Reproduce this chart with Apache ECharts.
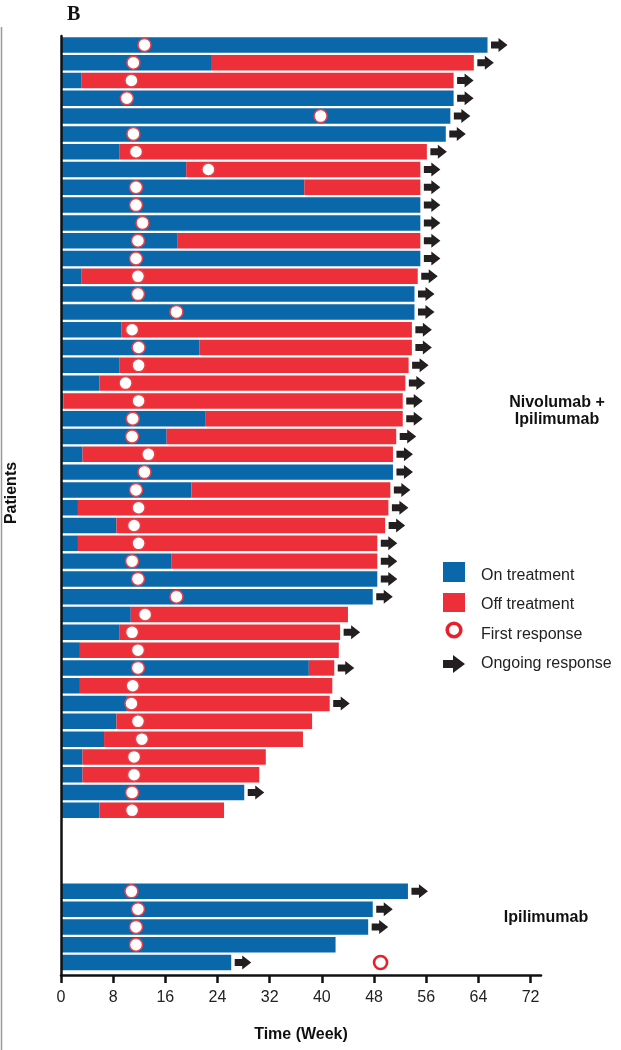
<!DOCTYPE html>
<html>
<head>
<meta charset="utf-8">
<script src="https://cdn.jsdelivr.net/npm/echarts@6/dist/echarts.min.js"></script>
<style>html,body{margin:0;padding:0;background:#fff;}#chart{width:621px;height:1050px;}</style>
</head>
<body>
<div id="chart"></div>
<script>
// ---- data (weeks) ----
const nivoOn =      [65.4,23.0,3.1,60.2,59.7,59.0,9.0,19.2,37.3,55.1,55.1,17.9,55.1,3.1,54.2,54.2,9.3,21.2,9.0,5.9,0.4,22.1,16.2,3.3,50.9,20.0,2.6,8.5,2.6,16.9,48.5,47.8,10.7,9.0,2.9,38.0,2.9,10.1,8.5,6.6,3.3,3.3,28.1,5.9];
const nivoTotal =   [65.4,63.3,60.2,60.2,59.7,59.0,56.1,55.1,55.1,55.1,55.1,55.1,55.1,54.7,54.2,54.2,53.8,53.8,53.3,52.8,52.4,52.4,51.4,50.9,50.9,50.5,50.2,49.7,48.5,48.5,48.5,47.8,44.0,42.8,42.6,41.9,41.6,41.2,38.5,37.1,31.4,30.4,28.1,25.0];
const nivoResp =    [12.8,11.1,10.8,10.1,39.8,11.1,11.5,22.6,11.5,11.5,12.5,11.8,11.5,11.8,11.8,17.7,10.9,11.9,11.9,9.9,11.9,11.0,10.9,13.4,12.8,11.5,11.9,11.2,11.9,10.9,11.8,17.7,12.9,10.9,11.8,11.8,11.0,10.8,11.8,12.4,11.2,11.2,10.9,10.9];
const nivoOngoing = [1,1,1,1,1,1,1,1,1,1,1,1,1,1,1,1,1,1,1,1,1,1,1,1,1,1,1,1,1,1,1,1,0,1,0,1,0,1,0,0,0,0,1,0];
const ipiOn =       [53.2,47.8,47.1,42.1,26.1];
const ipiTotal =    [53.2,47.8,47.1,42.1,26.1];
const ipiResp =     [10.8,11.8,11.5,11.5,49.0];
const ipiOngoing =  [1,1,1,0,1];
const xTicks = [0,8,16,24,32,40,48,56,64,72];
const legendNames = ['On treatment','Off treatment','First response','Ongoing response'];
const groupNames = ['Nivolumab +\nIpilimumab','Ipilimumab'];

const BLUE = '#0a67a9', RED = '#ec2f38', BLACK = '#231f20';
const GAP_ROWS = 4.55;

// build rows
const rows = [];
nivoOn.forEach((v,i)=>rows.push({pos:i,on:v,total:nivoTotal[i],resp:nivoResp[i],ong:nivoOngoing[i]}));
ipiOn.forEach((v,j)=>rows.push({pos:nivoOn.length-1+GAP_ROWS+j,on:v,total:ipiTotal[j],resp:ipiResp[j],ong:ipiOngoing[j]}));

const onData = rows.map(r=>[r.pos,0,r.on]);
const offData = rows.filter(r=>r.total>r.on).map(r=>[r.pos,r.on,r.total]);
const arrowData = rows.filter(r=>r.ong).map(r=>[r.pos,r.total]);
const respData = rows.map(r=>{
  const off = r.resp > r.total;
  return {value:[r.resp,r.pos], itemStyle: off ? {color:'#fff',borderColor:'#e8202c',borderWidth:2.6} : undefined};
});

function barRender(color){
  return function(params, api){
    const y = api.value(0), s = api.value(1), e = api.value(2);
    const p0 = api.coord([s,y]), p1 = api.coord([e,y]);
    const h = api.size([0,1])[1]*0.87;
    return {type:'rect', shape:{x:p0[0], y:p0[1]-h/2, width:p1[0]-p0[0], height:h}, style:{fill:color}};
  };
}
function arrowRender(params, api){
  const p = api.coord([api.value(1), api.value(0)]);
  const x0 = p[0]+3.5, y = p[1];
  return {type:'polygon', shape:{points:[[x0,y-3.5],[x0+7.5,y-3.5],[x0+7.5,y-7],[x0+16.5,y],[x0+7.5,y+7],[x0+7.5,y+3.5],[x0,y+3.5]]}, style:{fill:BLACK}};
}

const chart = echarts.init(document.getElementById('chart'), null, {renderer:'canvas'});
const FONT = '"Liberation Sans", Arial, Helvetica, sans-serif';
chart.setOption({
  animation:false,
  grid:{left:61, right:80, top:36, bottom:75},
  xAxis:{
    type:'value', min:0, max:73.6, interval:8, position:'bottom',
    axisLine:{show:true, onZero:false, lineStyle:{color:'#111', width:2.5}},
    axisTick:{show:true, customValues:xTicks, length:8, lineStyle:{color:'#111', width:2.5}},
    axisLabel:{customValues:xTicks, margin:15, fontSize:16, color:'#222', fontFamily:FONT,
      formatter:v=> (v%8===0 ? String(v) : '')},
    splitLine:{show:false},
    name:'Time (Week)', nameLocation:'middle', nameGap:52,
    nameTextStyle:{fontSize:16, fontWeight:'bold', color:'#111', fontFamily:FONT}
  },
  yAxis:{
    type:'value', inverse:true, min:-0.5, max:52.25, z:5,
    axisLine:{show:true, onZero:false, lineStyle:{color:'#111', width:2.5}},
    axisTick:{show:false}, axisLabel:{show:false}, splitLine:{show:false}
  },
  series:[
    {name:legendNames[0], type:'custom', renderItem:barRender(BLUE), data:onData, encode:{x:[1,2], y:0}, z:2},
    {name:legendNames[1], type:'custom', renderItem:barRender(RED), data:offData, encode:{x:[1,2], y:0}, z:2},
    {name:legendNames[3], type:'custom', renderItem:arrowRender, data:arrowData, encode:{x:1, y:0}, z:3},
    {name:legendNames[2], type:'scatter', symbol:'circle', symbolSize:13, data:respData, z:4,
      itemStyle:{color:'#fff', borderColor:'#e8404a', borderWidth:1.5, opacity:1}}
  ],
  graphic:[
    {type:'line', shape:{x1:1.5,y1:27,x2:1.5,y2:1050}, style:{stroke:'#999', lineWidth:1.5}},
    {type:'text', left:67, top:5, style:{text:'B', font:'bold 20px "Liberation Serif", "Times New Roman", serif', fill:'#111'}},
    {type:'text', x:12, y:493, rotation:Math.PI/2, style:{text:'Patients', font:'bold 16px '+FONT, fill:'#111', textAlign:'center', textVerticalAlign:'middle'}},
    {type:'text', x:557, y:411, style:{text:groupNames[0], font:'bold 16px '+FONT, fill:'#111', textAlign:'center', textVerticalAlign:'middle', lineHeight:17}},
    {type:'text', x:546, y:918, style:{text:groupNames[1], font:'bold 16px '+FONT, fill:'#111', textAlign:'center', textVerticalAlign:'middle'}},
    // legend
    {type:'rect', shape:{x:443,y:562,width:22,height:20}, style:{fill:BLUE}},
    {type:'rect', shape:{x:443,y:593,width:22,height:19}, style:{fill:RED}},
    {type:'circle', shape:{cx:454,cy:630,r:6.8}, style:{fill:'#fff', stroke:'#e8202c', lineWidth:3.6}},
    {type:'polygon', shape:{points:[[443,660],[453,660],[453,655],[465,664],[453,673],[453,668],[443,668]]}, style:{fill:BLACK}},
    {type:'text', x:481, y:576, style:{text:legendNames[0], font:'16px '+FONT, fill:'#222', textVerticalAlign:'middle'}},
    {type:'text', x:481, y:605, style:{text:legendNames[1], font:'16px '+FONT, fill:'#222', textVerticalAlign:'middle'}},
    {type:'text', x:481, y:635, style:{text:legendNames[2], font:'16px '+FONT, fill:'#222', textVerticalAlign:'middle'}},
    {type:'text', x:481, y:664, style:{text:legendNames[3], font:'16px '+FONT, fill:'#222', textVerticalAlign:'middle'}}
  ]
});
</script>
</body>
</html>
